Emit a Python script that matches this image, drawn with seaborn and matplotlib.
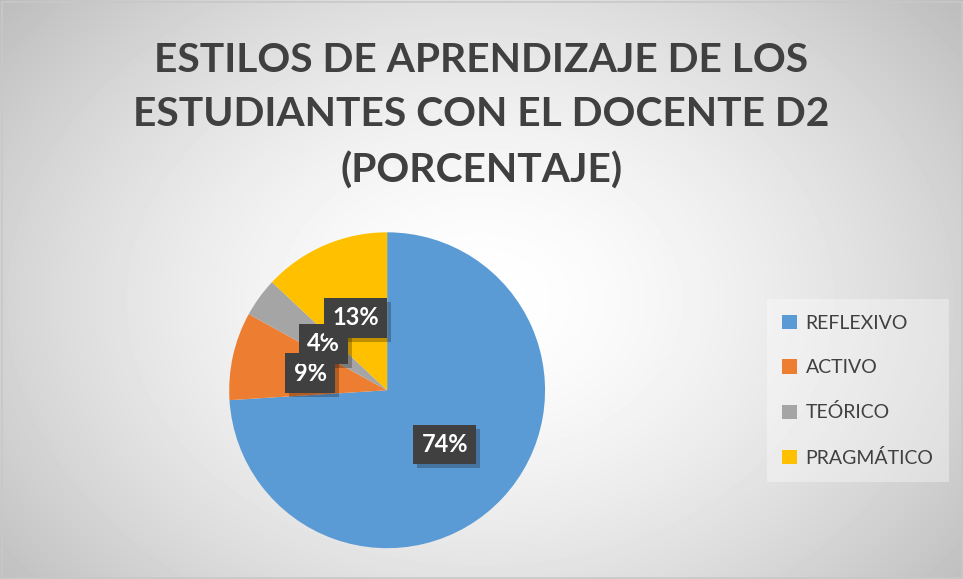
import numpy as np
import matplotlib
matplotlib.use("Agg")
from matplotlib import pyplot as plt
import seaborn as sns

categories = ["REFLEXIVO", "ACTIVO", "TEÓRICO", "PRAGMÁTICO"]
percentages = [74, 9, 4, 13]
title_text = "ESTILOS DE APRENDIZAJE DE LOS\nESTUDIANTES CON EL DOCENTE D2\n(PORCENTAJE)"

sns.set_theme(style="white")
plt.rcParams['font.family'] = ['Lato', 'DejaVu Sans']
colors = sns.color_palette(["#5B9BD5", "#ED7D31", "#A5A5A5", "#FFC000"])

fig = plt.figure(figsize=(9.63, 5.79), dpi=100)

# radial grey background like the office chart area
bg = fig.add_axes([0, 0, 1, 1], zorder=-10)
yy, xx = np.mgrid[0:579, 0:963]
r = np.sqrt(((xx - 480) / 560.0) ** 2 + ((yy - 300) / 420.0) ** 2)
shade = 1.0 - 0.22 * np.clip(r, 0, 1.2) ** 1.6
bg.imshow(shade, cmap="gray", vmin=0, vmax=1, aspect="auto", interpolation="bilinear")
bg.add_patch(plt.Rectangle((1, 1), 960, 576, fill=False, edgecolor="#c8c8c8", lw=1.2))
bg.set_axis_off()

fig.text(0.5, 0.80, title_text, ha="center", va="center", fontsize=29.3, fontweight="bold",
         color="#404040", linespacing=1.58)

ax = fig.add_axes([0.238, 0.053, 0.328, 0.546])
wedges, texts = ax.pie(percentages, colors=colors, startangle=90, counterclock=False,
                       labels=None, wedgeprops=dict(linewidth=0))
ax.set_xlim(-1, 1)
ax.set_ylim(-1, 1)
ax.set_aspect("equal")
ax.set_axis_off()

labels = []
start = 90.0
for w, p in zip(wedges, percentages):
    mid = np.deg2rad(start - p * 3.6 / 2)
    start -= p * 3.6
    x, y = 0.5 * np.cos(mid), 0.5 * np.sin(mid)
    t = ax.text(x, y, f"{p}%", ha="center", va="center", fontsize=17, fontweight="bold",
                color="white", bbox=dict(boxstyle="square,pad=0.35", fc="#404040", ec="none"),
                clip_on=False, zorder=5)
    labels.append(t)

# soft drop shadow behind each label box (drawn below the boxes, above the wedges)
fig.canvas.draw()
inv = ax.transData.inverted()
for t in labels:
    bb = t.get_bbox_patch().get_window_extent()
    x0, y0 = inv.transform((bb.x0 + 4, bb.y0 - 4))
    x1, y1 = inv.transform((bb.x1 + 4, bb.y1 - 4))
    ax.add_patch(plt.Rectangle((x0, y0), x1 - x0, y1 - y0, fc="black", ec="none",
                               alpha=0.25, zorder=4, clip_on=False))

leg = fig.legend(wedges, categories, loc="center left", bbox_to_anchor=(0.786, 0.325),
                 frameon=True, fontsize=14, handlelength=0.75, handleheight=0.75,
                 labelspacing=1.4, handletextpad=0.45, borderpad=0.8, fancybox=False)
leg.get_frame().set_facecolor("white")
leg.get_frame().set_alpha(0.35)
leg.get_frame().set_edgecolor("none")
for t in leg.get_texts():
    t.set_color("#404040")

fig.savefig("out.png", dpi=100)
